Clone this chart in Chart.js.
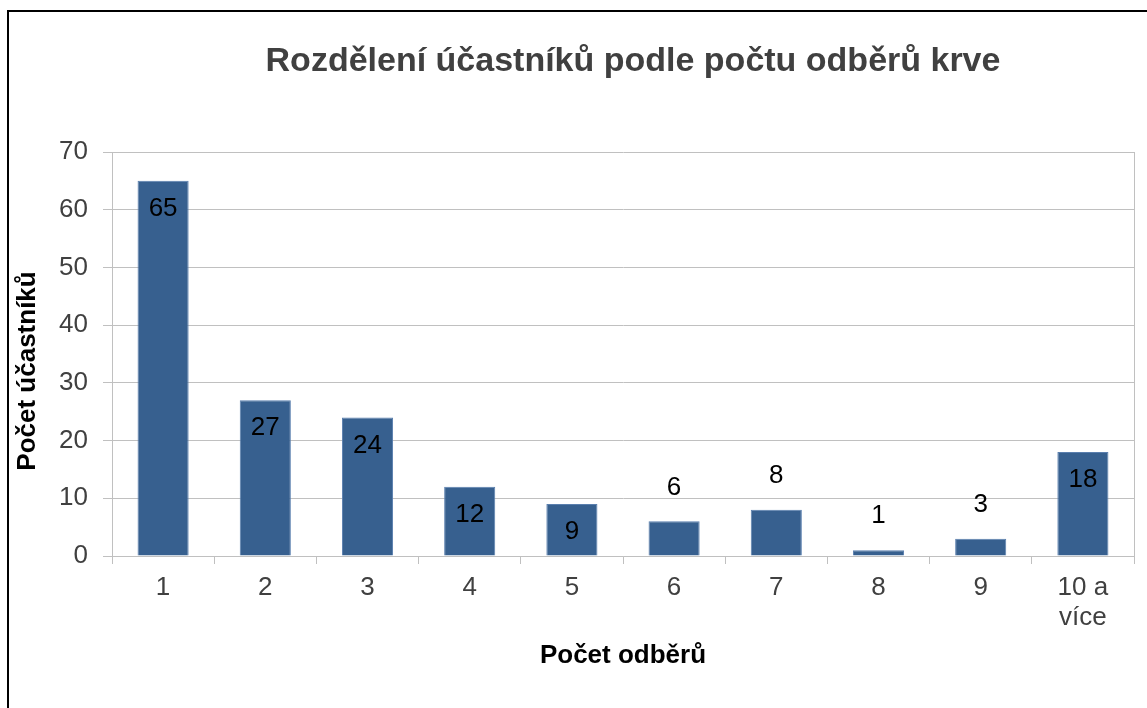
<!DOCTYPE html>
<html>
<head>
<meta charset="utf-8">
<script src="https://cdn.jsdelivr.net/npm/chart.js@4"></script>
<style>
  html, body { margin: 0; padding: 0; background: #fff; overflow: hidden; }
  #wrap { position: relative; width: 1147px; height: 708px; }
  #frame { position: absolute; left: 7px; top: 10px; width: 1300px; height: 900px; border-left: 2px solid #000; border-top: 2px solid #000; }
  #myChart { position: absolute; left: 0; top: 0; }
</style>
</head>
<body>
<div id="wrap">
  <div id="frame"></div>
  <canvas id="myChart" width="1147" height="708"></canvas>
</div>
<script>
var chartTitle = 'Rozdělení účastníků podle počtu odběrů krve';
var xTitle = 'Počet odběrů';
var yTitle = 'Počet účastníků';
var categories = ['1', '2', '3', '4', '5', '6', '7', '8', '9', ['10 a', 'více']];
var counts = [65, 27, 24, 12, 9, 6, 8, 1, 3, 18];
var yTicks = [0, 10, 20, 30, 40, 50, 60, 70];

var FONT = '"Liberation Sans", Arial, sans-serif';
var GRID = '#c0c0c0';

// labels inside the bar end, small bars get them above
var barLabels = {
  id: 'barLabels',
  afterDatasetsDraw: function(chart) {
    var ctx = chart.ctx;
    var meta = chart.getDatasetMeta(0);
    ctx.save();
    ctx.font = '26px ' + FONT;
    ctx.fillStyle = '#000';
    ctx.textAlign = 'center';
    ctx.textBaseline = 'middle';
    meta.data.forEach(function(bar, i) {
      var v = counts[i];
      var y = v >= 9 ? bar.y + 28 : bar.y - 34;
      ctx.fillText(String(v), bar.x, y);
    });
    ctx.restore();
  }
};

var decor = {
  id: 'decor',
  afterDraw: function(chart) {
    var ctx = chart.ctx;
    var a = chart.chartArea;
    ctx.save();
    ctx.strokeStyle = GRID;
    ctx.lineWidth = 1;
    ctx.beginPath();
    ctx.moveTo(Math.round(a.right) + 0.5, a.top);
    ctx.lineTo(Math.round(a.right) + 0.5, a.bottom + 8);
    ctx.stroke();
    // chart title
    ctx.font = 'bold 34px ' + FONT;
    ctx.fillStyle = '#404040';
    ctx.textAlign = 'center';
    ctx.textBaseline = 'middle';
    ctx.fillText(chartTitle, (a.left + a.right) / 2 + 10, 62);
    // y axis title, sits a bit lower than the axis middle
    ctx.font = 'bold 26px ' + FONT;
    ctx.fillStyle = '#000';
    ctx.translate(28, (a.top + a.bottom) / 2 + 17);
    ctx.rotate(-Math.PI / 2);
    ctx.fillText(yTitle, 0, 0);
    ctx.restore();
  }
};

var ctx = document.getElementById('myChart').getContext('2d');
var myChart = new Chart(ctx, {
  type: 'bar',
  data: {
    labels: categories,
    datasets: [{
      label: yTitle,
      data: counts,
      backgroundColor: '#37608f',
      borderColor: '#5a7fae',
      borderWidth: 1,
      barPercentage: 0.5,
      categoryPercentage: 1.0
    }]
  },
  options: {
    responsive: false,
    animation: false,
    layout: { padding: { top: 152, right: 13, left: 0, bottom: 0 } },
    plugins: {
      legend: { display: false },
      title: { display: false },
      tooltip: { enabled: false }
    },
    scales: {
      x: {
        afterFit: function(scale) { scale.height = 152; },
        grid: { drawOnChartArea: false, tickLength: 8, color: GRID, offset: true },
        border: { color: GRID },
        ticks: {
          color: '#404040',
          padding: 9,
          maxRotation: 0,
          font: { family: FONT, size: 26, lineHeight: 1.15 }
        },
        title: {
          display: true,
          text: xTitle,
          color: '#000',
          padding: { top: 0, bottom: 37 },
          font: { family: FONT, size: 26, weight: 'bold' }
        }
      },
      y: {
        min: 0,
        max: 70,
        afterFit: function(scale) { scale.width = 112; },
        afterBuildTicks: function(scale) {
          scale.ticks = yTicks.map(function(v) { return { value: v }; });
        },
        grid: { color: GRID, tickLength: 9 },
        border: { color: GRID },
        ticks: {
          color: '#404040',
          padding: 15,
          font: { family: FONT, size: 26 }
        },
        title: { display: false }
      }
    }
  },
  plugins: [barLabels, decor]
});
</script>
</body>
</html>
